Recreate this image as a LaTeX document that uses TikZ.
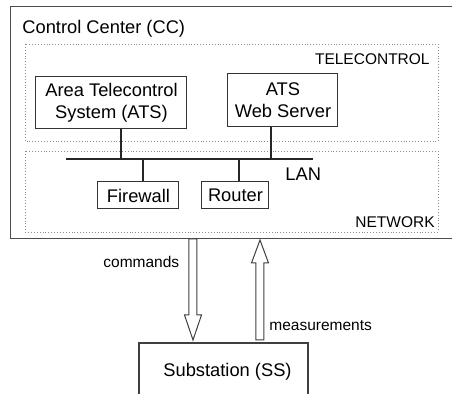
\documentclass[tikz,border=0pt]{standalone}
\usepackage{fontspec}
\setmainfont{Liberation Sans}
\usepackage{tikz}
\usetikzlibrary{positioning}
\newcommand{\smalltxt}{\fontsize{7.75}{9}\selectfont}

\tikzset{
  unitbox/.style={draw=black!80, line width=0.5pt, inner sep=0pt, align=center},
  zone/.style={draw=black!45, densely dotted, line width=0.45pt},
  bus/.style={draw=black!85, line width=0.8pt},
  bigarrow/.style={draw=black!75, fill=white, line width=0.5pt, line join=miter},
  lbl/.style={inner sep=0pt, font=\smalltxt},
}

\begin{document}
\begin{tikzpicture}[x=0.5pt, y=-0.5pt, font=\fontsize{9.15}{11}\selectfont]
\useasboundingbox (0,0) rectangle (452,394);
\clip (0,0) rectangle (452,394);
% control center and its two zones
\node[draw=black!70, line width=0.55pt, anchor=north west, minimum width=230pt, minimum height=116pt] (cc) at (10,6) {};
\node[anchor=base west, inner sep=0pt] (cctitle) at (22,34) {Control Center (CC)};
\draw[zone] (25,44) rectangle (438,141);
\draw[zone] (25,151) rectangle (438,232);
\node[lbl, anchor=base east] (tele) at (430,65) {TELECONTROL};
\node[lbl, anchor=base east] (net) at (435,228) {NETWORK};
% units
\node[unitbox, minimum width=75.5pt, minimum height=26pt] (ats) at (111.5,103) {Area Telecontrol\\System (ATS)};
\node[unitbox, minimum width=55pt, minimum height=26.5pt] (web) at (283,100.5) {ATS\\Web Server};
\node[unitbox, minimum width=40.5pt, minimum height=13.5pt] (fw) at (138.5,195.5) {Firewall};
\node[unitbox, minimum width=33.5pt, minimum height=13.5pt] (rt) at (235.5,195.5) {Router};
% LAN bus
\coordinate (lanW) at (66,159);
\coordinate (lanE) at (313,159);
\coordinate (tapats) at (121,159);
\coordinate (tapweb) at (271,159);
\coordinate (tapfw) at (143,159);
\coordinate (taprt) at (239,159);
\draw[bus] (lanW) -- (lanE);
\draw[bus] (tapats |- ats.south) -- (tapats);
\draw[bus] (tapweb |- web.south) -- (tapweb);
\draw[bus] (tapfw) -- (tapfw |- fw.north);
\draw[bus] (taprt) -- (taprt |- rt.north);
\node[anchor=base west, inner sep=0pt] (lan) at (285,181) {LAN};
% substation
\node[draw=black!75, line width=0.55pt, minimum width=84.5pt, minimum height=29pt] (ss) at (223.5,372) {};
\node[anchor=base, inner sep=0pt] (sstxt) at (227.5,377) {Substation (SS)};
% commands and measurements
\coordinate (cmd) at (193,239);
\coordinate (meas) at (260,340);
\draw[bigarrow] (cmd) ++(-4,0) -- ++(8,0) -- ++(0,76) -- ++(4.5,0) -- ++(-8.5,25)
  -- ++(-8.5,-25) -- ++(4.5,0) -- cycle;
\draw[bigarrow] (meas) ++(-4,0) -- ++(8,0) -- ++(0,-77) -- ++(4.5,0) -- ++(-8.5,-23)
  -- ++(-8.5,23) -- ++(4.5,0) -- cycle;
\node[lbl, anchor=base west] (cmdlbl) at (103,268) {commands};
\node[lbl, anchor=base west] (measlbl) at (269,331) {measurements};
\end{tikzpicture}
\end{document}
